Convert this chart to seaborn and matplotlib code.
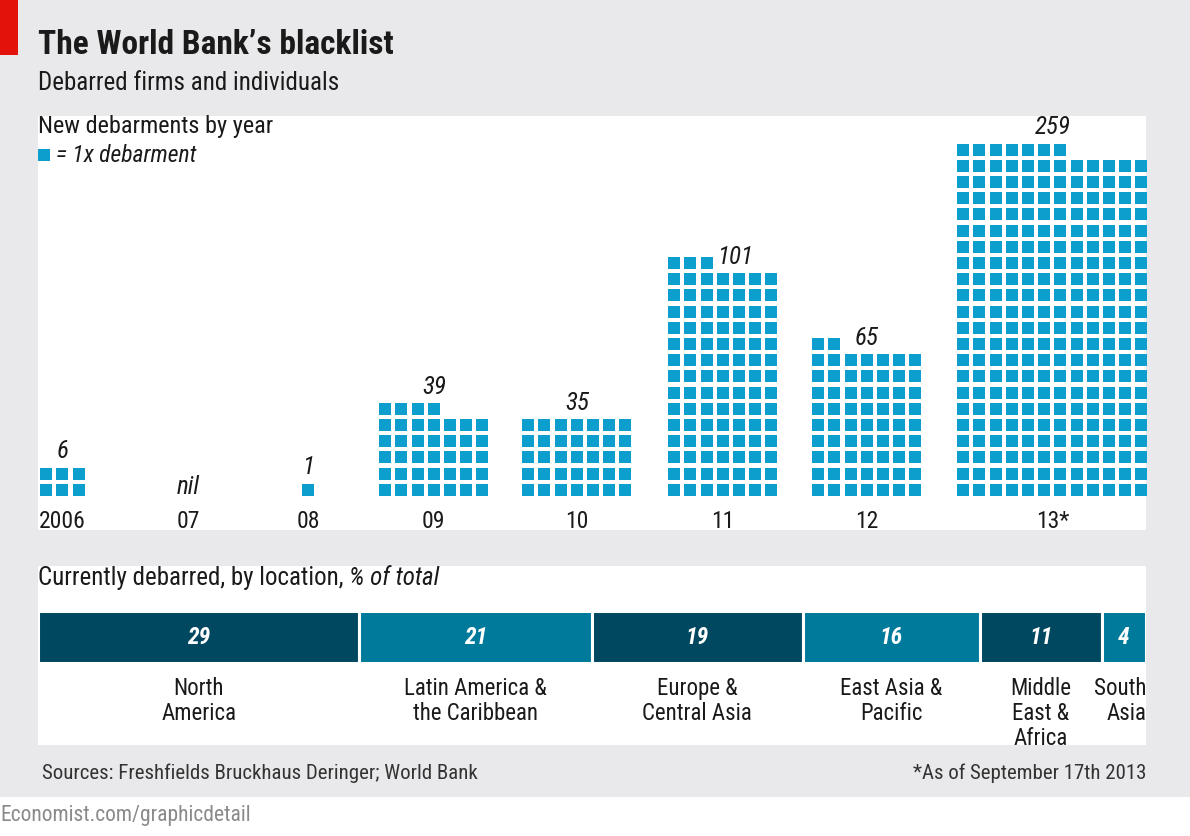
import math
import matplotlib
matplotlib.use('Agg')
import matplotlib.pyplot as plt
from matplotlib import font_manager
from matplotlib.patches import Rectangle
import pandas as pd
import seaborn as sns

# data
years = ['2006', '07', '08', '09', '10', '11', '12', '13*']
debarments = [6, 0, 1, 39, 35, 101, 65, 259]
block_cols = [3, 1, 1, 7, 7, 7, 7, 12]

regions = ['North\nAmerica', 'Latin America &\nthe Caribbean', 'Europe &\nCentral Asia',
           'East Asia &\nPacific', 'Middle\nEast &\nAfrica', 'South\nAsia']
shares = [29, 21, 19, 16, 11, 4]

# layout, in pixels of the 1190x836 canvas
W, H = 1190, 836
PITCH = 16.2
SQ = 12.5
BASE = 496
block_left_px = [40, 182, 302, 379, 522, 668, 812, 957]

BG = '#e9e9eb'
BLUE = '#0c9fcd'
DARK = '#00485f'
TEAL = '#007a9a'
INK = '#1a1a1a'

sns.set_style('white')
names = {f.name for f in font_manager.fontManager.ttflist}
narrow = next((n for n in ['Roboto Condensed', 'Liberation Sans Narrow', 'DejaVu Sans Condensed']
               if n in names), 'Roboto')
plt.rcParams['font.family'] = [narrow, 'DejaVu Sans']


def fx(px):
    return px / W


def fy(py):
    return 1 - py / H


def px_text(x, y, s, **kw):
    kw.setdefault('color', INK)
    kw.setdefault('va', 'center')
    return fig.text(fx(x), fy(y), s, **kw)


def px_rect(x0, y0, x1, y1, color, z=-1):
    fig.add_artist(Rectangle((fx(x0), fy(y1)), fx(x1) - fx(x0), fy(y0) - fy(y1),
                             transform=fig.transFigure, color=color, zorder=z, lw=0))


fig = plt.figure(figsize=(W / 100, H / 100), dpi=100, facecolor=BG)

# backgrounds
px_rect(0, 797, W, H, 'white')
px_rect(38, 566, 1146, 745, 'white')
px_rect(0, 0, 18, 55, '#e3120b', z=2)

px_text(38, 45, 'The World Bank\u2019s blacklist', fontsize=24, weight='bold')
px_text(38, 83, 'Debarred firms and individuals', fontsize=18)

# waffle panel
ax = fig.add_axes([fx(38), fy(530), fx(1146) - fx(38), fy(116) - fy(530)])
ax.set_facecolor('white')
ax.set_xlim(38, 1146)
ax.set_ylim(530, 116)
ax.axis('off')
ax.add_patch(Rectangle((38, 116), 1108, 414, color='white', zorder=0))

rows = []
for year, value, ncol, left in zip(years, debarments, block_cols, block_left_px):
    for i in range(value):
        r, c = divmod(i, ncol)
        rows.append({'year': year,
                     'x': left + c * PITCH + SQ / 2,
                     'y': BASE - r * PITCH - SQ / 2})
squares = pd.DataFrame(rows)
sns.scatterplot(data=squares, x='x', y='y', marker='s', s=(SQ * 0.72) ** 2,
                color=BLUE, linewidth=0, ax=ax, legend=False, zorder=3)

for year, value, ncol, left in zip(years, debarments, block_cols, block_left_px):
    center = left + ((ncol - 1) * PITCH + SQ) / 2
    ax.text(center, 521, year, ha='center', va='center', fontsize=17, color=INK)
    if value == 0:
        ax.text(center, BASE - 9, 'nil', ha='center', va='center', fontsize=18,
                style='italic', color=INK)
        continue
    nrows = math.ceil(value / ncol)
    rem = value % ncol
    if 0 < rem <= 3 and nrows > 1:
        # short top row: put the number beside it
        row_mid = BASE - (nrows - 1) * PITCH - SQ / 2
        end = left + (rem - 1) * PITCH + SQ
        ax.text(max(center, end + 22), row_mid - 6, str(value), ha='center', va='center',
                fontsize=18, style='italic', color=INK)
    else:
        top = BASE - (nrows - 1) * PITCH - SQ
        ax.text(center, top - 16, str(value), ha='center', va='center',
                fontsize=18, style='italic', color=INK)

px_text(38, 127, 'New debarments by year', fontsize=17.5)
px_rect(38, 149, 50, 161, BLUE, z=3)
px_text(56, 155, '= 1x debarment', fontsize=17, style='italic')

# location bar
renderer = fig.canvas.get_renderer()
t = px_text(38, 578, 'Currently debarred, by location, ', fontsize=18)
ext = t.get_window_extent(renderer)
fig.text(ext.x1 / W, fy(578), '% of total', fontsize=18, style='italic', color=INK, va='center')

ax_bar = fig.add_axes([fx(38), fy(663), fx(1146) - fx(38), fy(611) - fy(663)])
ax_bar.set_xlim(0, 100)
ax_bar.set_ylim(0, 1)
ax_bar.axis('off')
starts = [sum(shares[:i]) for i in range(len(shares))]
colors = [DARK if i % 2 == 0 else TEAL for i in range(len(shares))]
ax_bar.barh(0.5, shares, left=starts, height=1, color=colors, edgecolor='white', linewidth=2.2)
for i, (region, share, start) in enumerate(zip(regions, shares, starts)):
    mid = start + share / 2
    ax_bar.text(mid, 0.5, str(share), ha='center', va='center', fontsize=17,
                style='italic', weight='semibold', color='white')
    if i == len(shares) - 1:
        ax_bar.text(100, -0.27, region, ha='right', va='top', multialignment='right',
                    fontsize=16.5, color=INK, linespacing=1.1)
    else:
        ax_bar.text(mid, -0.27, region, ha='center', va='top', multialignment='center',
                    fontsize=16.5, color=INK, linespacing=1.1)

# footer
px_text(42, 773, 'Sources: Freshfields Bruckhaus Deringer; World Bank', fontsize=15, color='#333333')
px_text(1146, 773, '*As of September 17th 2013', fontsize=15, color='#333333', ha='right')
px_text(0, 816, 'Economist.com/graphicdetail', fontsize=15.5, color='#8a8a8a')

fig.savefig('out.png', dpi=100, facecolor=BG)
